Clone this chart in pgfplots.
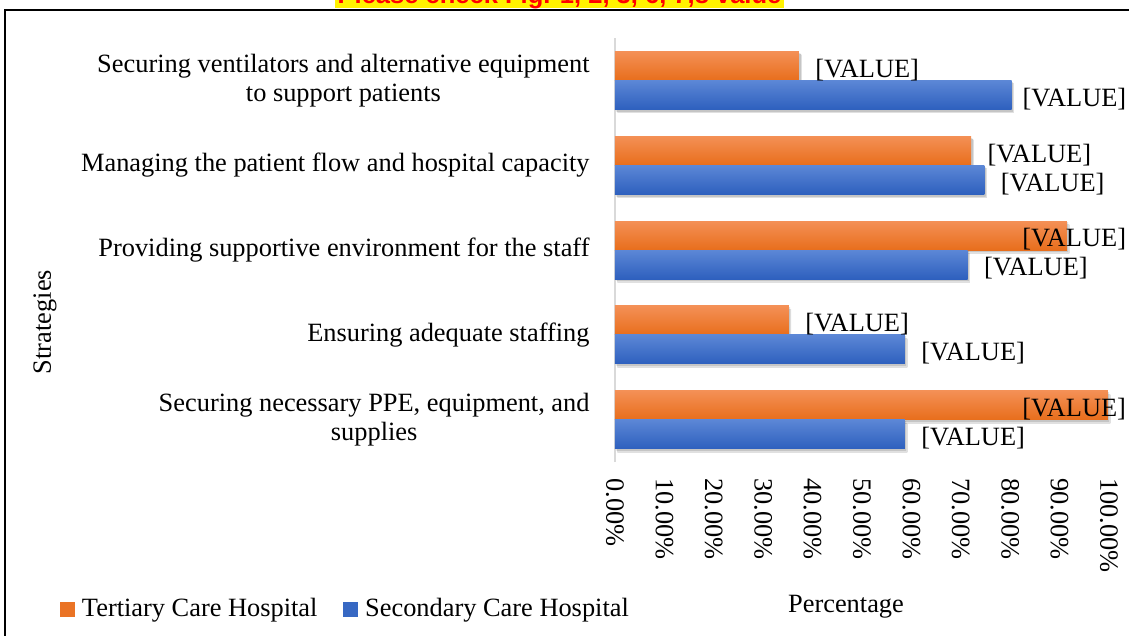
\documentclass[border=0pt]{standalone}
\usepackage{fontspec}
\setmainfont{Liberation Serif}
\newfontfamily\titlefont{Liberation Sans}
\usepackage{pgfplots}
\usepackage{pgfplotstable}
\pgfplotsset{compat=1.18}

\definecolor{orTop}{RGB}{244,144,86}
\definecolor{orBot}{RGB}{232,110,28}
\definecolor{blTop}{RGB}{92,135,214}
\definecolor{blBot}{RGB}{46,96,190}
\definecolor{axgray}{RGB}{217,217,217}

\newcommand\cf{\fontsize{12.4}{13.6}\selectfont}
% reference pixels -> pt
\newcommand\px[2]{({#1*0.47pt},{-#2*0.47pt})}

% y = category (0 = bottom), v = share, sh = label offset (pt)
\pgfplotstableread{
y v sh
4 0.3725 7.52
3 0.721 7.52
2 0.915 -21.1
1 0.352 7.52
0 0.998 -40.4
}\tertiary
\pgfplotstableread{
y v sh
4 0.803 5.0
3 0.748 7.52
2 0.714 7.52
1 0.587 7.52
0 0.587 7.52
}\secondary

\begin{document}
\begin{tikzpicture}
\node[anchor=base, fill=yellow, text=red, inner xsep=1pt, inner ysep=0pt,
  font=\titlefont\bfseries\fontsize{12}{14}\selectfont] at \px{559.5}{3}
  {Please check Fig. 1, 2, 3, 6, 7,8 value};
\draw[line width=0.7pt] \px{5}{1000} -- \px{5}{10} -- \px{1300}{10};

\begin{axis}[
  at={(289.05pt,-217.14pt)}, anchor=south west,
  scale only axis, width=239.1pt, height=199.28pt,
  xmin=0, xmax=1.03, ymin=-0.5, ymax=4.5,
  clip=false,
  separate axis lines,
  axis x line*=bottom, axis y line*=left,
  x axis line style={draw=none},
  y axis line style={draw=axgray, line width=0.7pt},
  tick style={draw=none},
  xtick={0,0.1,0.2,0.3,0.4,0.5,0.6,0.7,0.8,0.9,1},
  xticklabels={0.00\%,10.00\%,20.00\%,30.00\%,40.00\%,50.00\%,60.00\%,70.00\%,80.00\%,90.00\%,100.00\%},
  xticklabel style={rotate=-90, anchor=west, inner sep=0pt, font=\cf},
  xticklabel shift=7.5pt,
  ytick={0,1,2,3,4},
  yticklabels={{Securing necessary PPE, equipment, and\\supplies},
    {Ensuring adequate staffing},
    {Providing supportive environment for the staff},
    {Managing the patient flow and hospital capacity},
    {Securing ventilators and alternative equipment\\to support patients}},
  yticklabel style={align=center, anchor=east, inner sep=0pt, font=\cf},
  yticklabel shift=11.75pt,
  bar width=13.63pt,
  point meta=explicit symbolic,
  nodes near coords={{}[VALUE]},
  every node near coord/.append style={anchor=west, inner sep=0pt, font=\cf, text=black,
    xshift=\pgfplotspointmeta pt, yshift=-1.9pt},
  legend style={at={(-1.1046,-0.347)}, anchor=west, draw=none, fill=none,
    font=\cf, legend columns=2,
    /tikz/every odd column/.append style={column sep=1.4pt},
    /tikz/every even column/.append style={column sep=10pt}},
  barshadow/.style={
    preaction={top color=black, bottom color=black, fill opacity=0.12,
      transform canvas={xshift=0.6pt, yshift=-0.9pt}},
    preaction={top color=black, bottom color=black, fill opacity=0.12,
      transform canvas={xshift=1.1pt, yshift=-1.6pt}}},
]
% one plot per bar, so that each bar gets its own gradient
\pgfplotsinvokeforeach{0,1,2,3,4}{
  \addplot[xbar, forget plot, bar shift=6.815pt, draw=none, top color=orTop, bottom color=orBot,
    barshadow,
    every node near coord/.append style={yshift=6.815pt},
    restrict y to domain=#1:#1]
    table[x=v, y=y, meta=sh] {\tertiary};
  \addplot[xbar, forget plot, bar shift=-6.815pt, draw=none, top color=blTop, bottom color=blBot,
    barshadow,
    every node near coord/.append style={yshift=-6.815pt},
    restrict y to domain=#1:#1]
    table[x=v, y=y, meta=sh] {\secondary};
}
\addlegendimage{legend image code/.code={\fill[orBot!85!orTop] (0pt,-3.3pt) rectangle (6.6pt,3.3pt);}}
\addlegendentry{Tertiary Care Hospital}
\addlegendimage{legend image code/.code={\fill[blBot!80!blTop] (0pt,-3.3pt) rectangle (6.6pt,3.3pt);}}
\addlegendentry{Secondary Care Hospital}
\end{axis}

\node[font=\cf] at \px{846}{607} {Percentage};
\node[font=\cf, rotate=90] at \px{45}{322} {Strategies};

\pgfresetboundingbox
\path[use as bounding box] \px{0}{0} rectangle \px{1129}{635};
\end{tikzpicture}
\end{document}
